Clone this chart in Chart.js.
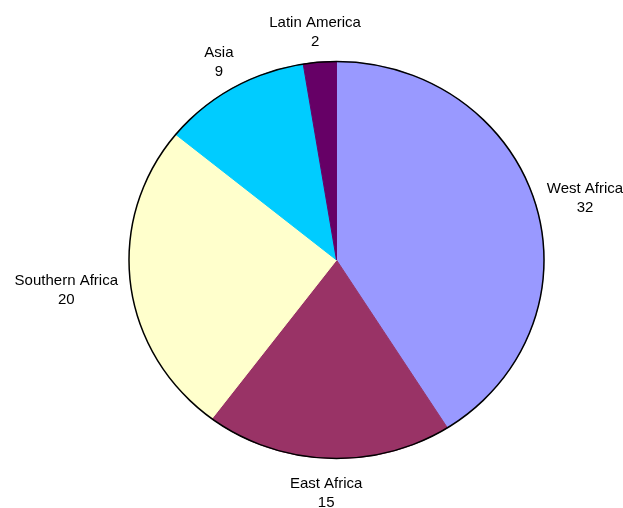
<!DOCTYPE html>
<html>
<head>
<meta charset="utf-8">
<script src="https://cdn.jsdelivr.net/npm/chart.js@4"></script>
<style>
  html, body { margin: 0; padding: 0; background: #fff; }
  #wrap { width: 623px; height: 508px; }
</style>
</head>
<body>
<div id="wrap"><canvas id="pie" width="623" height="508"></canvas></div>
<script>
const regions = ['West Africa', 'East Africa', 'Southern Africa', 'Asia', 'Latin America'];
const counts = [32, 15, 20, 9, 2];
const sliceColors = ['#9999FF', '#993366', '#FFFFCC', '#00CCFF', '#660066'];

// the original pie is a little wider than tall
const yScale = 199 / 208;
const labelFont = '15px "Liberation Sans", Arial, sans-serif';

const squash = {
  id: 'squash',
  beforeDatasetsDraw(chart) {
    const arc = chart.getDatasetMeta(0).data[0];
    const ctx = chart.ctx;
    ctx.save();
    ctx.translate(arc.x, arc.y);
    ctx.scale(1, yScale);
    ctx.translate(-arc.x, -arc.y);
  },
  afterDatasetsDraw(chart) {
    const meta = chart.getDatasetMeta(0);
    const arc = meta.data[0];
    const ctx = chart.ctx;
    // outline round the whole pie
    ctx.beginPath();
    ctx.arc(arc.x, arc.y, arc.outerRadius, 0, Math.PI * 2);
    ctx.lineWidth = 1.5;
    ctx.strokeStyle = '#000';
    ctx.stroke();
    ctx.restore();

    // labels: name + value outside each slice
    ctx.save();
    ctx.font = labelFont;
    ctx.fillStyle = '#000';
    ctx.textAlign = 'center';
    ctx.textBaseline = 'middle';
    const lineH = 19.5;
    const gap = 13;
    meta.data.forEach((el, i) => {
      const mid = (el.startAngle + el.endAngle) / 2;
      const c = Math.cos(mid), s = Math.sin(mid);
      const px = el.x + el.outerRadius * c;
      const py = el.y + el.outerRadius * yScale * s;
      const hw = Math.max(ctx.measureText(regions[i]).width, ctx.measureText(String(counts[i])).width) / 2;
      const hh = lineH;
      const lx = px + c * (gap + hw);
      const ly = py + s * (gap + hh) + 2.5;
      ctx.fillText(regions[i], lx, ly - lineH / 2);
      ctx.fillText(String(counts[i]), lx, ly + lineH / 2);
    });
    ctx.restore();
  }
};

new Chart(document.getElementById('pie'), {
  type: 'pie',
  data: {
    labels: regions,
    datasets: [{
      data: counts,
      backgroundColor: sliceColors,
      borderColor: sliceColors,
      borderWidth: 1
    }]
  },
  options: {
    responsive: false,
    animation: false,
    layout: { padding: { left: 128.5, right: 78.5, top: 52, bottom: 40 } },
    plugins: {
      legend: { display: false },
      tooltip: { enabled: false }
    }
  },
  plugins: [squash]
});
</script>
</body>
</html>
